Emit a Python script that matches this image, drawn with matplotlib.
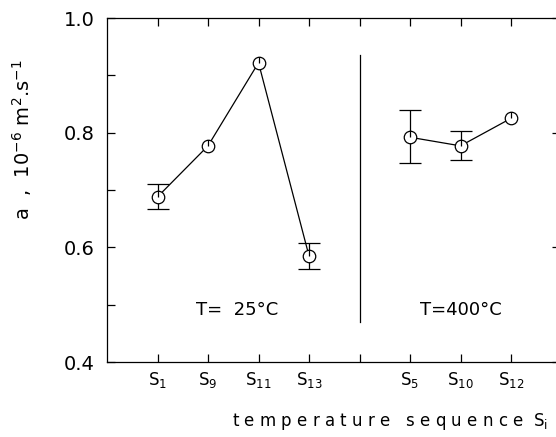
import numpy as np
import matplotlib
matplotlib.use("Agg")
import matplotlib.pyplot as plt
from matplotlib.path import Path

# ---- data ----
tick_labels = [r"$\mathregular{S_{1}}$", r"$\mathregular{S_{9}}$", r"$\mathregular{S_{11}}$",
               r"$\mathregular{S_{13}}$", "", r"$\mathregular{S_{5}}$",
               r"$\mathregular{S_{10}}$", r"$\mathregular{S_{12}}$"]
pos_25 = [1, 2, 3, 4]
val_25 = [0.688, 0.777, 0.922, 0.585]
err_lo_25 = [0.666, None, None, 0.563]
err_hi_25 = [0.710, None, None, 0.607]

pos_400 = [6, 7, 8]
val_400 = [0.792, 0.777, 0.825]
err_lo_400 = [0.747, 0.752, None]
err_hi_400 = [0.840, 0.803, None]

divider_x = 5
divider_lo, divider_hi = 0.47, 0.935
ylim = (0.4, 1.0)
xlim = (0, 8.97)

# ---- figure ----
fig = plt.figure(figsize=(5.56, 4.37), dpi=100)
ax = fig.add_axes([107/556, 1-362/437, 453/556, 344/437])
ax.set_xlim(*xlim)
ax.set_ylim(*ylim)

lw = 0.9
circ = Path.unit_circle()
hand = Path([(0, 1), (0, 0)], [Path.MOVETO, Path.LINETO])
marker_path = Path.make_compound_path(circ, hand)

def draw_group(pos, val, lo, hi):
    ax.plot(pos, val, color="black", lw=lw, zorder=2)
    for p, v, l, h in zip(pos, val, lo, hi):
        if l is not None:
            ax.errorbar([p], [v], yerr=[[v - l], [h - v]], fmt="none",
                        ecolor="black", elinewidth=lw, capsize=8, capthick=lw, zorder=1)
    ax.plot(pos, val, linestyle="none", marker=marker_path, markersize=9,
            markerfacecolor="white", markeredgecolor="black", markeredgewidth=lw, zorder=3)

draw_group(pos_25, val_25, err_lo_25, err_hi_25)
draw_group(pos_400, val_400, err_lo_400, err_hi_400)

ax.plot([divider_x, divider_x], [divider_lo, divider_hi], color="black", lw=lw)

ax.text(2.57, 0.49, "T=  25°C", ha="center", va="center", fontsize=13)
ax.text(7.0, 0.49, "T=400°C", ha="center", va="center", fontsize=13)

# ticks
ax.set_xticks(range(1, 9))
ax.set_xticklabels(tick_labels, fontsize=12)
ax.set_yticks([0.4, 0.6, 0.8, 1.0])
ax.set_yticklabels(["0.4", "0.6", "0.8", "1.0"], fontsize=14)
ax.set_yticks([0.5, 0.7, 0.9], minor=True)
ax.tick_params(axis="both", which="both", direction="in", length=6, width=lw)
ax.tick_params(axis="x", top=True, pad=6)
ax.tick_params(axis="y", which="major", right=True, pad=9)
ax.tick_params(axis="y", which="minor", right=False)
for s in ax.spines.values():
    s.set_linewidth(lw)
ax.spines["right"].set_visible(False)

fig.text(22/556, 1-140/437, r"a  ,  10$^{-6}$ m$^{2}$.s$^{-1}$", rotation=90,
         ha="center", va="center", fontsize=14)
fig.text(390/556, 1-421/437, "t e m p e r a t u r e   s e q u e n c e  " + r"$\mathregular{S_{i}}$",
         ha="center", va="center", fontsize=12)

fig.savefig("out.png", dpi=100)
